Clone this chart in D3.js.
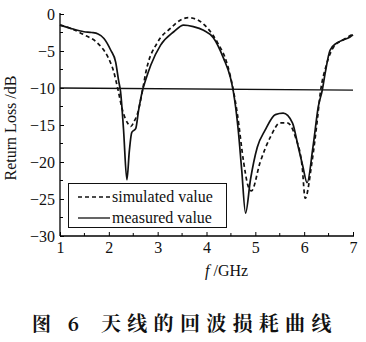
<!DOCTYPE html>
<html><head><meta charset="utf-8">
<script src="https://cdn.jsdelivr.net/npm/d3@7"></script>
<style>
html,body{margin:0;padding:0;background:#fff;}
svg{display:block;}
</style></head>
<body>
<script>
// ---- data ----
const freqMeasured = [1.00,1.20,1.49,1.65,1.78,1.90,2.04,2.14,2.20,2.24,2.30,2.37,2.42,2.47,2.55,2.61,2.69,2.75,2.86,3.06,3.33,3.53,3.73,3.94,4.14,4.35,4.49,4.55,4.65,4.72,4.80,4.90,5.04,5.20,5.41,5.57,5.76,5.88,5.97,6.06,6.18,6.29,6.37,6.43,6.53,6.67,6.80,6.94,7.00];
const measured     = [-1.5,-1.9,-2.4,-2.5,-2.7,-3.3,-4.9,-6.5,-9.0,-10.5,-15.5,-22.4,-18.5,-16.0,-15.5,-13.0,-10.3,-9.0,-6.9,-4.2,-2.4,-1.5,-1.7,-2.2,-3.2,-6.0,-8.6,-10.5,-15.7,-21.0,-26.9,-22.4,-18.0,-15.7,-13.6,-13.4,-14.7,-18.0,-20.5,-22.8,-18.0,-12.5,-10.3,-8.0,-4.9,-3.9,-3.5,-3.1,-2.8];
const freqSimulated = [1.00,1.20,1.49,1.78,1.98,2.10,2.18,2.28,2.39,2.45,2.52,2.59,2.69,2.76,3.00,3.27,3.47,3.63,3.82,4.02,4.22,4.43,4.55,4.63,4.76,4.85,4.92,5.10,5.31,5.51,5.65,5.82,5.96,6.02,6.16,6.27,6.33,6.45,6.60,6.80,7.00];
const simulated     = [-1.5,-1.9,-2.8,-4.0,-5.8,-7.8,-10.0,-13.0,-14.8,-15.2,-14.5,-13.4,-10.3,-7.8,-3.8,-1.9,-0.8,-0.5,-0.8,-1.9,-3.8,-6.9,-10.3,-13.4,-20.0,-23.2,-23.9,-20.0,-16.6,-14.7,-14.7,-16.6,-20.7,-24.9,-20.0,-14.3,-10.7,-7.0,-4.5,-3.5,-2.7];
const refFreq = [1, 7];
const refLevel = [-10.0, -10.3];
const xTicks = [1,2,3,4,5,6,7];
const yTicks = [0,-5,-10,-15,-20,-25,-30];
const seriesNames = ["simulated value","measured value"];
const xLabel = "/GHz";
const yLabel = "Return Loss /dB";
const caption1 = "图 6";
const caption2 = "天线的回波损耗曲线";

// ---- drawing ----
const W = 366, H = 342;
const serif = '"Liberation Serif", "Times New Roman", serif';
const svg = d3.select("body").append("svg").attr("width", W).attr("height", H);
const x = d3.scaleLinear().domain([1,7]).range([60,353]);
const y = d3.scaleLinear().domain([-30,0]).range([236,14]);

// axes (inward ticks)
const xAxis = d3.axisBottom(x).tickValues(xTicks).tickSize(-4).tickFormat(d3.format("d"));
const gx = svg.append("g").attr("transform","translate(0,236)").call(xAxis)
  .attr("font-family", serif).attr("font-size", 16);
gx.select(".domain").attr("d", `M${x(1)},0H${x(7)+1}`).attr("stroke","#000").attr("stroke-width",1.3);
gx.selectAll(".tick text").attr("y",6).attr("dy","0.71em").style("font-family", serif).style("font-size","16px").attr("fill","#111");
gx.selectAll(".tick line").attr("stroke","#000");
// minor x ticks
svg.append("g").selectAll("line").data(d3.range(1.5,7,1)).join("line")
  .attr("x1",d=>x(d)).attr("x2",d=>x(d)).attr("y1",236).attr("y2",233).attr("stroke","#000");

const yAxis = d3.axisLeft(y).tickValues(yTicks).tickSize(-4).tickFormat(d3.format("d"));
const gy = svg.append("g").attr("transform",`translate(${x(1)},0)`).call(yAxis)
  .attr("font-family", serif).attr("font-size", 16);
gy.select(".domain").attr("d", `M0,${y(0)-1}V${y(-30)}`).attr("stroke","#000").attr("stroke-width",1.3);
gy.selectAll(".tick text").attr("x",-5).style("font-family", serif).style("font-size","16px").attr("fill","#111");
gy.selectAll(".tick line").attr("stroke","#000");
svg.append("g").selectAll("line").data(d3.range(-27.5,0,5)).join("line")
  .attr("x1",x(1)).attr("x2",x(1)+3).attr("y1",d=>y(d)).attr("y2",d=>y(d)).attr("stroke","#000");

// reference line at -10 dB
svg.append("path").datum(refFreq.map((f,i)=>[f,refLevel[i]]))
  .attr("d", d3.line().x(d=>x(d[0])).y(d=>y(d[1])))
  .attr("fill","none").attr("stroke","#111").attr("stroke-width",1.3);

const line = d3.line().x(d=>x(d[0])).y(d=>y(d[1])).curve(d3.curveMonotoneX);
svg.append("path").datum(freqSimulated.map((f,i)=>[f,simulated[i]]))
  .attr("d", line).attr("fill","none").attr("stroke","#111").attr("stroke-width",1.7).attr("stroke-dasharray","4,3");
svg.append("path").datum(freqMeasured.map((f,i)=>[f,measured[i]]))
  .attr("d", line).attr("fill","none").attr("stroke","#111").attr("stroke-width",1.7);

// legend
const lg = svg.append("g");
lg.append("rect").attr("x",68.5).attr("y",183.5).attr("width",158).attr("height",44)
  .attr("fill","#fff").attr("stroke","#111").attr("stroke-width",1);
seriesNames.forEach((name,i)=>{
  const yy = 197 + i*21;
  lg.append("line").attr("x1",78).attr("x2",110).attr("y1",yy).attr("y2",yy)
    .attr("stroke","#111").attr("stroke-width",1.3).attr("stroke-dasharray", i===0 ? "4,3" : null);
  lg.append("text").attr("x",112).attr("y",yy+5).text(name)
    .style("font-family", serif).style("font-size","16px").attr("fill","#111");
});

// axis titles
const xt = svg.append("text").attr("x",205).attr("y",276).style("font-family", serif).style("font-size","16px").attr("fill","#111");
xt.append("tspan").style("font-style","italic").text("f");
xt.append("tspan").text(" " + xLabel);
svg.append("text").attr("transform","translate(16,128) rotate(-90)").attr("text-anchor","middle")
  .style("font-family", serif).style("font-size","16px").attr("fill","#111").text(yLabel);

// caption
const cap = svg.append("g").style("font-family",'"Noto Serif CJK SC", "Noto Sans CJK SC", serif').style("font-weight","bold").attr("fill","#111");
cap.append("text").attr("x",32).attr("y",331).style("font-size","19px").style("letter-spacing","6px").text(caption1);
cap.append("text").attr("x",101).attr("y",331).style("font-size","20px").style("letter-spacing","6.3px").text(caption2);
</script>
</body></html>
